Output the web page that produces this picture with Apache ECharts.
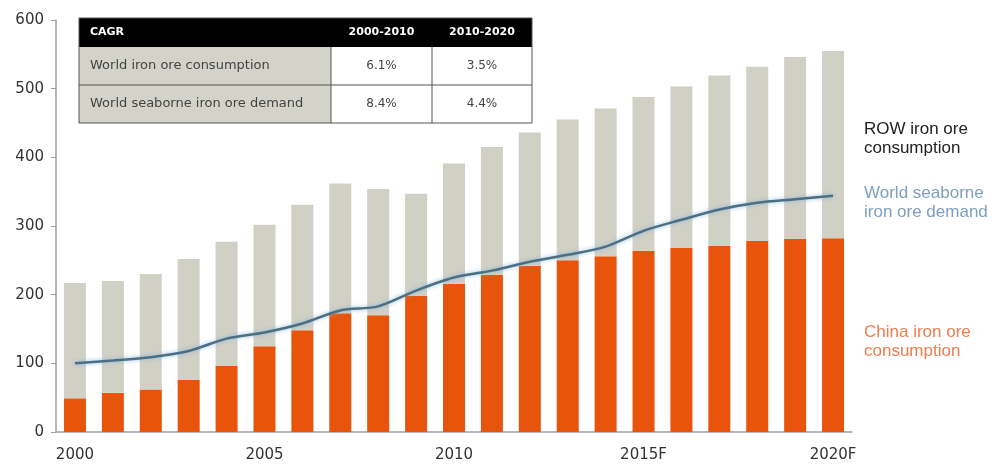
<!DOCTYPE html>
<html>
<head>
<meta charset="utf-8">
<script src="https://cdn.jsdelivr.net/npm/echarts@6/dist/echarts.min.js"></script>
<style>
html,body{margin:0;padding:0;background:#fff;}
#chart{width:996px;height:468px;}
</style>
</head>
<body>
<div id="chart"></div>
<script>
var years = ['2000','2001','2002','2003','2004','2005','2006','2007','2008','2009','2010','2011','2012','2013','2014','2015F','2016F','2017F','2018F','2019F','2020F'];
var chinaConsumption = [49,57,62,76,96,125,148,173,170,198,216,229,242,250,256,264,268,271,278,281,282];
var rowConsumption = [168,163,168,176,181,177,183,189,184,149,175,186,194,205,215,224,235,248,254,265,273];
var seaborneDemand = [100,104,109,118,136,145,158,177,183,206,225,235,248,258,270,293,309,324,334,339,344];
var yTicks = [0,100,200,300,400,500,600];
var tableHeader = ['CAGR','2000-2010','2010-2020'];
var tableRows = [
  ['World iron ore consumption','6.1%','3.5%'],
  ['World seaborne iron ore demand','8.4%','4.4%']
];
var seriesLabels = ['ROW iron ore\nconsumption','World seaborne\niron ore demand','China iron ore\nconsumption'];

var chart = echarts.init(document.getElementById('chart'));
var font = '"Liberation Sans", Arial, sans-serif';
var dfont = '"DejaVu Sans", Verdana, sans-serif';

// table graphic
var tx = 79, tw = 453, c1 = 331, c2 = 432, ty = 18, hh = 29, rh = 38;
var colX = [tx, c1, c2, tx + tw];
var tableEls = [];
tableEls.push({type:'rect', shape:{x:tx, y:ty, width:tw, height:hh}, style:{fill:'#000'}});
tableEls.push({type:'rect', shape:{x:tx, y:ty+hh, width:c1-tx, height:rh*2}, style:{fill:'#d4d3ca'}});
tableEls.push({type:'rect', shape:{x:c1, y:ty+hh, width:tx+tw-c1, height:rh*2}, style:{fill:'#fff'}});
tableHeader.forEach(function(t, i){
  tableEls.push({type:'text', style:{text:t, x: i===0 ? tx+11 : (colX[i]+colX[i+1])/2, y: ty+hh/2, fill:'#fff', font:'bold 11px '+dfont, textAlign: i===0?'left':'center', textVerticalAlign:'middle'}});
});
tableRows.forEach(function(r, ri){
  var cy = ty + hh + rh*ri + rh/2;
  r.forEach(function(t, i){
    tableEls.push({type:'text', style:{text:t, x: i===0 ? tx+11 : (colX[i]+colX[i+1])/2, y: cy, fill:'#444', font:(i===0?'13px ':'12px ')+dfont, textAlign: i===0?'left':'center', textVerticalAlign:'middle'}});
  });
});
tableEls.push({type:'line', shape:{x1:tx, y1:ty+hh+rh, x2:tx+tw, y2:ty+hh+rh}, style:{stroke:'#555', lineWidth:1}});
tableEls.push({type:'line', shape:{x1:c1, y1:ty+hh, x2:c1, y2:ty+hh+rh*2}, style:{stroke:'#555', lineWidth:1}});
tableEls.push({type:'line', shape:{x1:c2, y1:ty+hh, x2:c2, y2:ty+hh+rh*2}, style:{stroke:'#555', lineWidth:1}});
tableEls.push({type:'rect', shape:{x:tx, y:ty, width:tw, height:hh+rh*2}, style:{fill:'none', stroke:'#555', lineWidth:1}});

var labelEls = [
  {type:'text', style:{text:seriesLabels[0], x:864, y:139, fill:'#222', font:'17px '+font, lineHeight:19, textVerticalAlign:'middle'}},
  {type:'text', style:{text:seriesLabels[1], x:864, y:203, fill:'#7d9fbd', font:'17px '+font, lineHeight:19, textVerticalAlign:'middle'}},
  {type:'text', style:{text:seriesLabels[2], x:864, y:342, fill:'#f07c4c', font:'17px '+font, lineHeight:19, textVerticalAlign:'middle'}}
];

chart.setOption({
  animation: false,
  grid: {left:56, right:144, top:20, bottom:36},
  xAxis: {
    type:'category', data: years, boundaryGap:true,
    axisLine:{lineStyle:{color:'#9aa0aa', width:1.5}},
    axisTick:{show:false},
    axisLabel:{interval:4, color:'#333', fontSize:15, fontFamily:dfont, margin:16}
  },
  yAxis: {
    type:'value', min:0, max:600, interval:100,
    axisLine:{show:true, lineStyle:{color:'#9aa0aa', width:1.5}},
    axisTick:{show:true, inside:false, length:5, lineStyle:{color:'#9aa0aa'}},
    splitLine:{show:false},
    axisLabel:{color:'#333', fontSize:15, fontFamily:dfont, margin:12}
  },
  series: [
    {name:'China', type:'bar', stack:'total', data: chinaConsumption, barWidth:22, itemStyle:{color:'#e8540c'}},
    {name:'ROW', type:'bar', stack:'total', data: rowConsumption, barWidth:22, itemStyle:{color:'#d1d0c5'}},
    {name:'Seaborne', type:'line', data: seaborneDemand, smooth:0.3, symbol:'none', z:5,
     lineStyle:{color:'#4d6f84', width:2.5, shadowColor:'rgba(130,180,220,0.9)', shadowBlur:4}}
  ],
  graphic: tableEls.concat(labelEls)
});
</script>
</body>
</html>
